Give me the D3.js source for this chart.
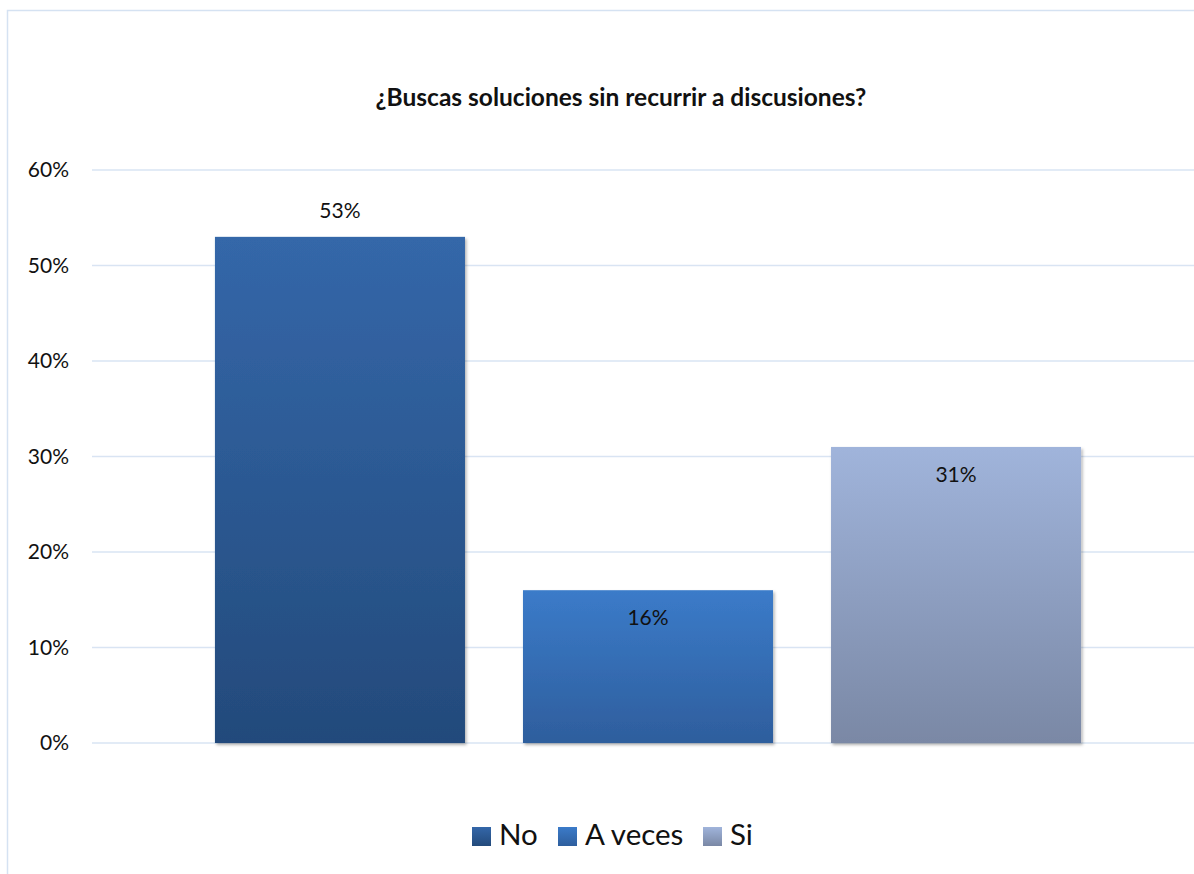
<!DOCTYPE html>
<html><head><meta charset="utf-8">
<script src="https://cdn.jsdelivr.net/npm/d3@7"></script>
<style>body{margin:0;background:#fff;}svg{display:block;font-family:Lato,"Open Sans",sans-serif;}</style>
</head><body>
<svg id="c" width="1194" height="874"></svg>
<script>
const categories = ["No", "A veces", "Si"];
const values = [0.53, 0.16, 0.31];
const yTicks = [0, 0.1, 0.2, 0.3, 0.4, 0.5, 0.6];
const title = "¿Buscas soluciones sin recurrir a discusiones?";
const topColors = ["#3467a9", "#3b7bc9", "#a0b4db"];
const bottomColors = ["#234a7b", "#2e5e9d", "#7a88a5"];

const svg = d3.select("#c");
const defs = svg.append("defs");
categories.forEach((c, i) => {
  const g = defs.append("linearGradient").attr("id", "g" + i).attr("x1", 0).attr("y1", 0).attr("x2", 0).attr("y2", 1);
  g.append("stop").attr("offset", "0%").attr("stop-color", topColors[i]);
  g.append("stop").attr("offset", "100%").attr("stop-color", bottomColors[i]);
});
const f = defs.append("filter").attr("id", "sh").attr("x", "-5%").attr("y", "-5%").attr("width", "115%").attr("height", "115%");
f.append("feDropShadow").attr("dx", 1.5).attr("dy", 2).attr("stdDeviation", 1.5).attr("flood-color", "#000").attr("flood-opacity", 0.3);

// chart border
svg.append("rect").attr("x", 7.5).attr("y", 10.5).attr("width", 1300).attr("height", 900)
  .attr("fill", "none").attr("stroke", "#d5e2f2").attr("stroke-width", 1.5);

const x = d3.scaleBand().domain(categories).range([186, 1110]).paddingInner(0.1883).paddingOuter(0.094);
const y = d3.scaleLinear().domain([0, 0.6]).range([743, 170]);

// gridlines
svg.append("g").selectAll("line").data(yTicks).join("line")
  .attr("x1", 92).attr("x2", 1194)
  .attr("y1", d => y(d)).attr("y2", d => y(d))
  .attr("stroke", "#d9e4f3").attr("stroke-width", 1.5);

// y axis labels
const yAxis = d3.axisLeft(y).tickValues(yTicks).tickFormat(d3.format(".0%")).tickSize(0).tickPadding(0);
const ya = svg.append("g").attr("transform", "translate(69,0)").call(yAxis);
ya.select(".domain").remove();
ya.selectAll("text").attr("font-size", 21).attr("fill", "#111").attr("font-family", "Lato, sans-serif");

// bars
svg.append("g").selectAll("rect").data(values).join("rect")
  .attr("x", (d, i) => x(categories[i]))
  .attr("width", x.bandwidth())
  .attr("y", d => y(d))
  .attr("height", d => y(0) - y(d))
  .attr("fill", (d, i) => `url(#g${i})`)
  .attr("filter", "url(#sh)");

// labels
svg.append("g").selectAll("text").data(values).join("text")
  .attr("x", (d, i) => x(categories[i]) + x.bandwidth() / 2)
  .attr("y", (d, i) => i === 0 ? y(d) - 19 : y(d) + 35)
  .attr("text-anchor", "middle").attr("font-size", 21).attr("fill", "#111")
  .text(d => d3.format(".0%")(d));

// title
svg.append("text").attr("x", 621).attr("y", 106).attr("text-anchor", "middle")
  .attr("font-size", 24.5).attr("font-weight", "bold").attr("fill", "#111").text(title);

// legend
const legendX = [472, 558, 703];
const lg = svg.append("g").selectAll("g").data(categories).join("g")
  .attr("transform", (d, i) => `translate(${legendX[i]},827)`);
lg.append("rect").attr("width", 19).attr("height", 19).attr("fill", (d, i) => `url(#g${i})`);
lg.append("text").attr("x", 27).attr("y", 18).attr("font-size", 29.5).attr("fill", "#111").text(d => d);
</script>
</body></html>
